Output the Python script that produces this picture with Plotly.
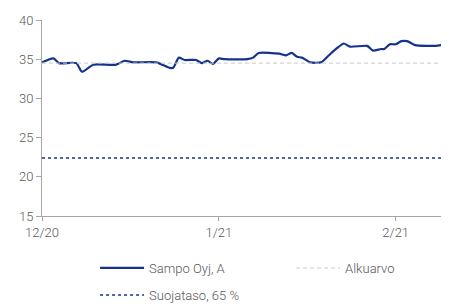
import plotly.graph_objects as go

dates = ["2020-12-01","2020-12-03","2020-12-04","2020-12-07","2020-12-08","2020-12-10",
         "2020-12-14","2020-12-15 12:00","2020-12-17","2020-12-21","2020-12-23 10:00","2020-12-24",
         "2020-12-25","2020-12-26","2020-12-28","2020-12-29","2020-12-30","2020-12-31",
         "2021-01-01","2021-01-02","2021-01-06","2021-01-07","2021-01-08","2021-01-11 14:00",
         "2021-01-12 19:00","2021-01-13 19:00","2021-01-14 17:00","2021-01-15 14:00","2021-01-17",
         "2021-01-18 22:00","2021-01-20 07:00","2021-01-21 17:00","2021-01-22 22:00","2021-01-24",
         "2021-01-27","2021-01-28","2021-01-29 10:00","2021-01-30","2021-01-31","2021-02-01",
         "2021-02-02","2021-02-03","2021-02-04 10:00","2021-02-06 17:00","2021-02-08","2021-02-09 20:00"]
values = [34.6,35.1,34.5,34.5,33.4,34.3,
          34.3,34.8,34.6,34.6,33.9,33.9,
          35.2,34.9,34.9,34.5,34.8,34.4,
          35.1,35.0,35.0,35.2,35.8,35.7,
          35.5,35.8,35.3,35.2,34.6,
          34.6,35.5,36.4,37.0,36.6,
          36.7,36.1,36.3,36.3,36.9,36.9,
          37.3,37.3,36.8,36.7,36.7,36.9]

x_range = ["2020-12-01", "2021-02-10"]
alkuarvo = 34.5
suojataso = 22.4
tick_vals = ["2020-12-01", "2021-01-01", "2021-02-01"]
tick_text = ["12/20", "1/21", "2/21"]

navy = "#14338F"
fontc = "#595959"

fig = go.Figure()
fig.add_trace(go.Scatter(x=dates, y=values, mode="lines", name="Sampo Oyj, A", legend="legend",
                         line=dict(color=navy, width=2.2, shape="spline", smoothing=0.6)))
fig.add_trace(go.Scatter(x=x_range, y=[alkuarvo, alkuarvo], mode="lines", name="Alkuarvo", legend="legend2",
                         line=dict(color="#C8C8C8", width=1, dash="4px,3px")))
fig.add_trace(go.Scatter(x=x_range, y=[suojataso, suojataso], mode="lines", name="Suojataso, 65 %", legend="legend3",
                         line=dict(color=navy, width=1.5, dash="dot")))

# page body has an 8px default margin, so the figure is sized 8px smaller
leg = dict(orientation="h", xanchor="left", yanchor="middle", yref="container",
           font=dict(size=13, color=fontc, weight=300), bgcolor="rgba(0,0,0,0)", itemwidth=44)
fig.update_layout(
    width=441, height=296,
    margin=dict(l=34, r=2, t=12, b=88),
    paper_bgcolor="white", plot_bgcolor="white",
    font=dict(family="Roboto", size=13, color=fontc, weight=300),
    showlegend=True,
    legend=dict(leg, x=0.131, y=0.1216),
    legend2=dict(leg, x=0.615, y=0.1216),
    legend3=dict(leg, x=0.131, y=0.0304),
    xaxis=dict(type="date", range=x_range, tickvals=tick_vals, ticktext=tick_text, automargin=False,
               showgrid=False, zeroline=False, showline=True, linecolor="#A6A6A6", linewidth=1,
               ticks="outside", ticklen=4, tickcolor="#A6A6A6"),
    yaxis=dict(range=[15, 40], dtick=5, showgrid=False, zeroline=False, showline=True, automargin=False,
               linecolor="#A6A6A6", linewidth=1, ticks="outside", ticklen=5, tickcolor="#A6A6A6"),
)
fig.write_html("out.html")
